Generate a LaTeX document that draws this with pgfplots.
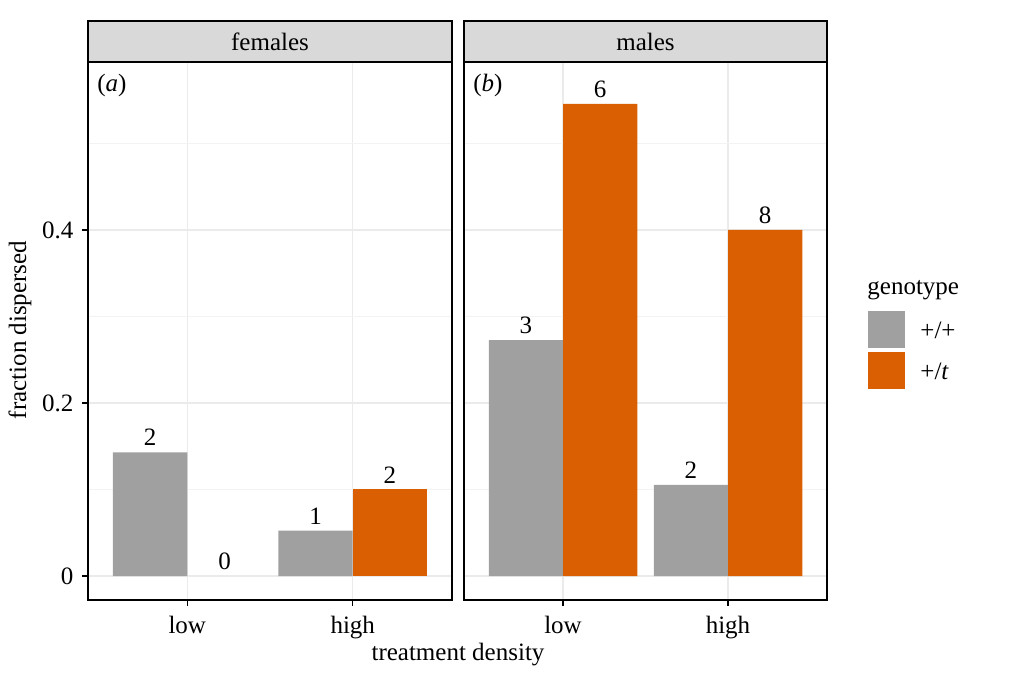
\documentclass[border=0pt]{standalone}
\usepackage{pgfplots}
\pgfplotsset{compat=1.18}
\usepackage{fontspec}
\setmainfont{Liberation Serif}

\definecolor{barwt}{HTML}{A0A0A0}
\definecolor{bart}{HTML}{D95F02}
\definecolor{stripfill}{HTML}{D9D9D9}
\definecolor{gridmaj}{HTML}{EBEBEB}
\definecolor{gridmin}{HTML}{F3F3F3}

\pgfplotsset{
  panel/.style={
    scale only axis,
    width=182pt, height=269pt,
    anchor=south west,
    xmin=0.4, xmax=2.6,
    ymin=-0.0277, ymax=0.594,
    xtick={1,2}, xticklabels={low,high},
    ytick={0,0.2,0.4}, minor ytick={0.1,0.3,0.5},
    yticklabels={0,0.2,0.4},
    xmajorgrids, ymajorgrids, yminorgrids,
    major grid style={gridmaj, line width=0.7pt},
    minor grid style={gridmin, line width=0.5pt},
    axis line style={black, line width=0.8pt},
    tick align=outside, xtick pos=bottom, ytick pos=left,
    major tick length=3pt,
    tick style={black, line width=0.7pt},
    minor tick length=0pt,
    ybar=0pt, bar width=0.45,
    every node near coord/.append style={font=\fontsize{12.5}{15}\selectfont, black, inner sep=3pt, anchor=south},
    ticklabel style={font=\fontsize{12.5}{15}\selectfont},
    xticklabel style={yshift=-0.5pt},
  },
}

\begin{document}
\fontsize{12.5}{15}\selectfont
\begin{tikzpicture}
\path (0,0) rectangle (511.5pt,342.5pt);

% panel (a): females
\begin{axis}[panel, at={(44pt,42.5pt)}]
\addplot[fill=barwt, draw=none, bar shift=-0.225, nodes near coords, point meta=explicit symbolic]
  coordinates {(1,0.1429)[2] (2,0.0526)[1]};
\addplot[fill=bart, draw=none, bar shift=0.225, nodes near coords, point meta=explicit symbolic]
  coordinates {(2,0.1)[2]};
% zero-height bar: label only
\addplot[fill=none, draw=none, bar shift=0.225, nodes near coords, point meta=explicit symbolic]
  coordinates {(1,0)[0]};
\node[anchor=north west, inner sep=0pt] at ([xshift=4.5pt,yshift=-6pt]rel axis cs:0,1) {(\textit{a})};
\end{axis}

% panel (b): males
\begin{axis}[panel, at={(232pt,42.5pt)}, width=181.5pt, yticklabels={}, y tick style={draw=none}]
\addplot[fill=barwt, draw=none, bar shift=-0.225, nodes near coords, point meta=explicit symbolic]
  coordinates {(1,0.2727)[3] (2,0.1053)[2]};
\addplot[fill=bart, draw=none, bar shift=0.225, nodes near coords, point meta=explicit symbolic]
  coordinates {(1,0.5455)[6] (2,0.4)[8]};
\node[anchor=north west, inner sep=0pt] at ([xshift=4.5pt,yshift=-6pt]rel axis cs:0,1) {(\textit{b})};
\end{axis}

% facet strips
\draw[fill=stripfill, line width=0.8pt] (44pt,311.5pt) rectangle (226pt,332pt);
\node at (135pt,321.75pt) {females};
\draw[fill=stripfill, line width=0.8pt] (232pt,311.5pt) rectangle (413.5pt,332pt);
\node at (322.75pt,321.75pt) {males};

% axis titles
\node at (229pt,15pt) {treatment density};
\node[rotate=90] at (10pt,177.5pt) {fraction dispersed};

% legend
\node[anchor=west, inner sep=0pt] at (433.5pt,197.5pt) {genotype};
\fill[barwt] (434pt,168.5pt) rectangle (452.5pt,187pt);
\fill[bart] (434pt,148pt) rectangle (452.5pt,166.5pt);
\node[anchor=west, inner sep=0pt] at (460pt,177.5pt) {+/+};
\node[anchor=west, inner sep=0pt] at (460pt,157pt) {+/\textit{t}};
\end{tikzpicture}
\end{document}
